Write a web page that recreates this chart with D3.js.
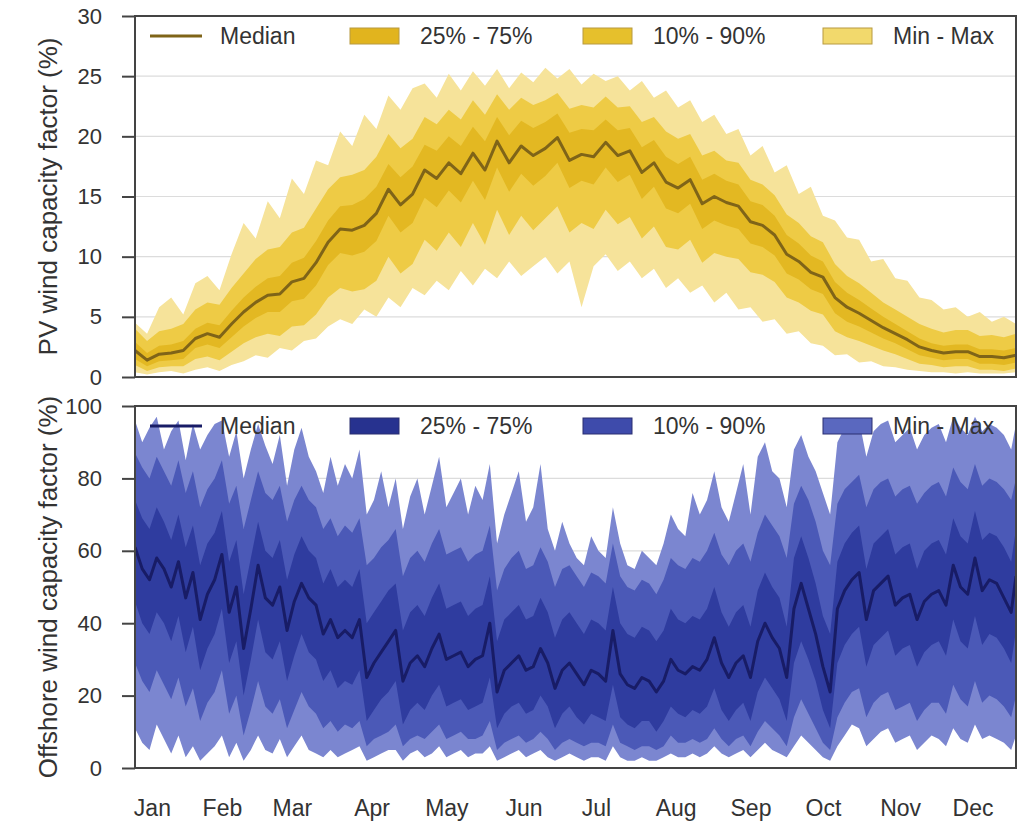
<!DOCTYPE html>
<html>
<head>
<meta charset="utf-8">
<script src="https://cdn.jsdelivr.net/npm/d3@7/dist/d3.min.js"></script>
<style>
  body { margin: 0; background: #fff; }
  text { font-family: "Liberation Sans", Arial, Helvetica, sans-serif; fill: #333; }
</style>
</head>
<body>
<svg id="chart" width="1030" height="824"></svg>
<script>
// Month labels and the day they sit on
var months = ['Jan','Feb','Mar','Apr','May','Jun','Jul','Aug','Sep','Oct','Nov','Dec'];
var monthDays = [7,36,65,98,129,161,191,224,255,285,317,347];

var legendNames = ['Median','25% - 75%','10% - 90%','Min - Max'];

// PV capacity factor (%), one sample every 5 days
var pvDays = [0,5,10,15,20,25,30,35,40,45,50,55,60,65,70,75,80,85,90,95,
  100,105,110,115,120,125,130,135,140,145,150,155,160,165,170,175,180,185,190,195,
  200,205,210,215,220,225,230,235,240,245,250,255,260,265,270,275,280,285,290,295,
  300,305,310,315,320,325,330,335,340,345,350,355,360,365];
var pvMedian = [2.2,1.4,1.9,2.0,2.2,3.2,3.6,3.3,4.4,5.4,
  6.2,6.8,6.9,7.9,8.2,9.5,11.2,12.3,12.2,12.6,
  13.6,15.6,14.3,15.2,17.2,16.5,17.8,16.9,18.6,17.2,
  19.6,17.8,19.2,18.4,19.0,19.9,18.0,18.5,18.3,19.5,
  18.4,18.8,17.0,17.8,16.2,15.7,16.4,14.4,15.0,14.5,
  14.2,12.9,12.6,11.8,10.2,9.6,8.7,8.3,6.6,5.8,
  5.3,4.7,4.1,3.6,3.1,2.5,2.2,2.0,2.1,2.1,
  1.7,1.7,1.6,1.8];
var pvQ75 = [2.9,2.0,2.6,2.7,3.0,4.0,4.5,4.3,5.5,6.6,
  7.5,8.2,8.4,9.5,9.9,11.3,13.0,14.2,14.3,14.8,
  15.8,17.7,16.6,17.5,19.3,18.8,20.0,19.2,20.8,19.6,
  21.6,20.1,21.3,20.7,21.2,21.9,20.3,20.6,20.5,21.4,
  20.5,20.7,19.1,19.7,18.3,17.7,18.3,16.4,16.9,16.3,
  16.0,14.6,14.3,13.4,11.8,11.1,10.1,9.6,7.9,7.0,
  6.4,5.7,5.0,4.4,3.8,3.2,2.8,2.6,2.7,2.7,
  2.3,2.3,2.2,2.4];
var pvQ25 = [1.5,0.9,1.3,1.4,1.5,2.4,2.7,2.4,3.3,4.2,
  4.9,5.4,5.4,6.3,6.5,7.6,9.3,10.3,10.1,10.4,
  11.3,13.4,12.0,12.8,14.9,14.1,15.5,14.5,16.3,14.7,
  17.4,15.4,16.9,15.9,16.7,17.8,15.7,16.3,16.0,17.4,
  16.2,16.8,14.8,15.8,14.0,13.6,14.4,12.3,13.0,12.6,
  12.3,11.1,10.8,10.1,8.6,8.1,7.3,6.9,5.3,4.6,
  4.2,3.7,3.2,2.8,2.3,1.8,1.6,1.4,1.5,1.5,
  1.1,1.1,1.0,1.2];
var pvP90 = [4.0,3.0,3.8,4.0,4.4,5.6,6.2,6.0,7.4,8.6,
  9.8,10.6,10.8,12.0,12.4,14.0,15.6,16.6,16.8,17.2,
  18.3,20.2,19.0,19.8,21.6,21.0,22.2,21.4,23.0,21.8,
  23.5,22.2,23.2,22.6,23.0,23.6,22.3,22.6,22.4,23.3,
  22.4,22.5,21.2,21.6,20.4,19.8,20.2,18.4,18.8,18.0,
  17.8,16.4,16.0,15.1,13.5,12.8,11.7,11.2,9.4,8.4,
  7.8,7.0,6.2,5.6,5.0,4.4,4.0,3.7,3.9,3.9,
  3.4,3.5,3.3,3.6];
var pvP10 = [1.0,0.5,0.8,0.9,0.9,1.5,1.7,1.4,2.1,2.8,
  3.3,3.6,3.4,4.2,4.3,5.2,6.6,7.4,7.1,7.3,
  8.0,10.0,8.6,9.4,11.4,10.5,12.0,10.8,12.8,11.0,
  13.9,11.8,13.4,12.2,13.2,14.2,12.0,12.8,12.3,13.9,
  12.7,13.3,11.5,12.5,10.8,10.6,11.4,9.5,10.3,10.0,
  9.8,8.7,8.5,7.9,6.6,6.2,5.5,5.2,3.8,3.3,
  3.0,2.6,2.2,1.9,1.5,1.1,1.0,0.8,0.9,0.9,
  0.6,0.6,0.5,0.7];
var pvMax = [4.5,3.6,5.8,6.6,5.2,7.8,8.4,7.2,10.2,12.8,
  11.5,14.6,13.2,16.5,15.2,18.0,17.6,20.4,19.2,21.8,
  20.6,23.4,22.2,24.0,24.4,23.2,25.2,23.8,25.4,24.2,
  25.6,24.0,25.3,24.5,25.7,24.8,25.6,24.3,25.2,24.6,
  25.0,23.8,24.6,23.2,23.8,22.4,23.0,21.2,21.8,20.2,
  20.6,18.4,19.2,17.0,17.6,15.2,15.8,13.4,13.0,11.6,
  11.4,9.6,9.8,8.2,8.0,6.6,6.4,5.6,5.8,5.0,
  5.4,4.6,5.0,4.4];
var pvMin = [0.4,0.2,0.4,0.5,0.3,0.6,0.8,0.5,1.0,1.3,
  1.8,1.6,2.4,2.2,3.0,3.2,4.2,4.8,4.4,5.6,
  5.0,6.6,5.8,7.4,6.8,8.0,7.2,8.8,7.6,9.0,
  8.2,9.6,8.4,9.2,10.0,8.6,9.6,5.8,9.2,10.2,
  8.8,9.6,8.2,9.0,7.4,8.2,7.0,7.6,6.2,7.0,
  5.6,5.8,4.6,4.8,3.6,3.8,2.8,2.6,1.8,1.9,
  1.2,1.3,0.9,0.8,0.6,0.5,0.4,0.4,0.3,0.4,
  0.3,0.3,0.3,0.4];

// Offshore wind capacity factor (%), one sample every 3 days
var windDays = [0,3,6,9,12,15,18,21,24,27,
  30,33,36,39,42,45,48,51,54,57,
  60,63,66,69,72,75,78,81,84,87,
  90,93,96,99,102,105,108,111,114,117,
  120,123,126,129,132,135,138,141,144,147,
  150,153,156,159,162,165,168,171,174,177,
  180,183,186,189,192,195,198,201,204,207,
  210,213,216,219,222,225,228,231,234,237,
  240,243,246,249,252,255,258,261,264,267,
  270,273,276,279,282,285,288,291,294,297,
  300,303,306,309,312,315,318,321,324,327,
  330,333,336,339,342,345,348,351,354,357,
  360,363,365];
var windMedian = [61,55,52,58,55,50,57,47,54,41,
  48,52,59,43,50,33,44,56,47,45,
  50,38,46,51,47,45,37,41,36,38,
  36,41,25,29,32,35,38,24,29,31,
  28,33,37,30,31,32,28,30,31,40,
  21,27,29,31,27,28,33,29,22,27,
  29,26,23,27,26,24,38,26,23,22,
  25,24,21,24,30,27,26,28,27,30,
  36,29,25,29,31,25,35,40,36,33,
  25,44,51,44,37,28,21,44,49,52,
  54,41,49,51,53,45,47,48,41,46,
  48,49,45,56,50,48,58,49,52,51,
  47,43,53];
var windQ75 = [74,69,66,72,68,63,70,61,67,56,
  62,65,71,57,63,48,58,68,60,58,
  63,52,59,64,60,58,51,55,50,52,
  50,55,40,43,46,49,51,38,43,45,
  42,47,51,44,45,46,42,44,45,53,
  35,41,43,45,41,42,47,43,36,41,
  43,40,37,41,40,38,50,40,37,36,
  39,38,35,38,44,41,40,42,41,44,
  50,43,39,43,45,39,49,54,50,47,
  39,58,64,58,51,42,37,57,62,65,
  67,55,62,64,66,59,61,62,55,60,
  62,63,59,69,64,62,71,63,65,64,
  61,57,66];
var windQ25 = [46,40,37,43,40,35,42,32,39,27,
  33,37,44,29,35,20,30,41,32,30,
  35,24,31,37,32,30,24,27,22,24,
  23,27,13,16,19,21,24,12,16,18,
  16,20,23,17,18,19,16,17,18,25,
  11,15,17,18,15,16,20,17,11,15,
  17,14,12,15,14,13,23,14,12,11,
  13,13,10,13,17,15,14,16,15,17,
  22,16,13,16,18,13,21,25,22,19,
  13,29,35,30,24,16,11,29,34,37,
  39,28,34,36,38,31,33,34,28,32,
  34,35,31,41,35,33,42,34,37,36,
  33,29,38];
var windP90 = [87,83,80,86,82,78,85,76,82,72,
  77,80,85,73,78,66,74,82,76,74,
  78,68,74,78,74,72,66,69,64,67,
  65,69,56,58,61,63,66,53,58,60,
  57,62,66,59,60,61,57,59,60,67,
  49,55,58,60,55,56,61,57,50,55,
  56,53,50,54,53,51,62,53,50,49,
  52,51,48,52,58,56,55,58,57,60,
  65,59,56,60,62,57,65,70,67,64,
  58,73,78,74,68,60,56,73,77,79,
  81,72,77,79,80,75,77,78,73,76,
  78,79,75,83,79,77,84,78,80,79,
  77,74,80];
var windP10 = [29,24,21,27,23,19,25,17,22,13,
  18,21,27,15,20,9,16,24,17,15,
  19,11,16,21,17,15,11,13,10,12,
  11,13,6,8,9,10,12,6,8,9,
  8,10,12,8,9,10,8,8,9,13,
  5,7,8,9,7,8,10,8,5,7,
  8,7,6,7,7,6,12,7,6,5,
  6,6,5,6,9,7,7,8,7,8,
  11,8,6,8,9,6,10,13,11,9,
  6,14,19,15,11,7,5,14,18,21,
  22,14,18,20,21,16,17,18,13,16,
  18,18,15,23,19,17,24,18,20,19,
  17,14,20];
var windMax = [96,90,94,97,88,93,96,85,95,88,
  92,95,96,86,93,80,88,95,89,84,
  92,78,88,94,86,82,76,86,78,84,
  80,88,70,74,82,72,80,66,75,80,
  70,78,86,72,76,80,70,78,74,84,
  62,70,76,82,68,72,84,66,60,68,
  62,58,56,64,60,58,72,62,56,55,
  60,58,56,62,70,66,64,76,70,74,
  82,72,68,76,84,70,86,90,82,80,
  72,88,92,86,82,76,70,90,94,95,
  96,86,93,95,96,90,92,94,88,92,
  94,95,90,97,94,92,97,93,95,94,
  92,88,95];
var windMin = [11,7,5,12,8,4,9,3,6,2,
  4,6,9,3,7,2,5,9,5,4,
  8,3,6,9,5,4,3,5,3,4,
  5,6,2,3,4,5,5,2,4,5,
  3,4,6,3,4,5,3,4,4,6,
  2,3,4,5,3,4,5,3,2,3,
  4,3,2,3,3,2,6,3,2,2,
  3,2,2,3,4,3,3,4,3,4,
  6,4,3,4,5,3,5,7,5,4,
  3,6,9,7,5,3,2,6,9,12,
  11,6,8,10,11,7,8,9,5,7,
  9,8,6,11,8,7,12,8,9,8,
  7,5,9];

var svg = d3.select('#chart');
var plotLeft = 135, plotRight = 1016;
var x = d3.scaleLinear().domain([0, 365]).range([plotLeft, plotRight]);

function drawPanel(cfg) {
  var y = d3.scaleLinear().domain([0, cfg.ymax]).range([cfg.bottom, cfg.top]);
  var g = svg.append('g');

  // clip the data to the plot box
  svg.append('clipPath').attr('id', cfg.id + '-clip')
    .append('rect')
    .attr('x', plotLeft).attr('y', cfg.top)
    .attr('width', plotRight - plotLeft).attr('height', cfg.bottom - cfg.top);

  // light horizontal grid
  g.selectAll('.grid')
    .data(cfg.ticks.filter(function(t) { return t > 0 && t < cfg.ymax; }))
    .enter().append('line')
    .attr('x1', plotLeft).attr('x2', plotRight)
    .attr('y1', function(d) { return y(d); })
    .attr('y2', function(d) { return y(d); })
    .style('stroke', '#dcdcdc').style('stroke-width', 1.2);

  var s = cfg.series;
  var rows = cfg.days.map(function(d, i) {
    return { day: d, min: s.min[i], max: s.max[i], p10: s.p10[i], p90: s.p90[i],
             q25: s.q25[i], q75: s.q75[i], med: s.med[i] };
  });

  var data = g.append('g').attr('clip-path', 'url(#' + cfg.id + '-clip)');
  var bands = [['min', 'max', cfg.colors[3]], ['p10', 'p90', cfg.colors[2]], ['q25', 'q75', cfg.colors[1]]];
  bands.forEach(function(b) {
    var area = d3.area()
      .x(function(d) { return x(d.day); })
      .y0(function(d) { return y(d[b[0]]); })
      .y1(function(d) { return y(d[b[1]]); });
    data.append('path').datum(rows)
      .attr('d', area)
      .style('fill', b[2]);
  });

  var line = d3.line()
    .x(function(d) { return x(d.day); })
    .y(function(d) { return y(d.med); });
  data.append('path').datum(rows)
    .attr('d', line)
    .style('fill', 'none')
    .style('stroke', cfg.colors[0])
    .style('stroke-width', 3)
    .style('stroke-linejoin', 'round');

  // frame
  g.append('rect')
    .attr('x', plotLeft).attr('y', cfg.top)
    .attr('width', plotRight - plotLeft).attr('height', cfg.bottom - cfg.top)
    .style('fill', 'none').style('stroke', '#444').style('stroke-width', 2);

  // y axis
  var yAxis = g.append('g')
    .attr('transform', 'translate(' + plotLeft + ',0)')
    .call(d3.axisLeft(y).tickValues(cfg.ticks).tickSize(13).tickPadding(20));
  yAxis.select('.domain').remove();
  yAxis.selectAll('line').style('stroke', '#444').style('stroke-width', 2);
  yAxis.selectAll('text').style('font-size', '22px').style('fill', '#333')
    .style('font-family', '"Liberation Sans", Arial, sans-serif');

  g.append('text')
    .attr('transform', 'translate(57,' + ((cfg.top + cfg.bottom) / 2) + ') rotate(-90)')
    .attr('text-anchor', 'middle')
    .style('font-size', '26px')
    .text(cfg.label);

  // legend
  var legX = [150, 350, 583, 823];
  var ly = cfg.top + 20;
  var leg = g.append('g');
  legendNames.forEach(function(name, i) {
    if (i === 0) {
      leg.append('line')
        .attr('x1', legX[i]).attr('x2', legX[i] + 52)
        .attr('y1', ly).attr('y2', ly)
        .style('stroke', cfg.colors[0]).style('stroke-width', 3);
    } else {
      leg.append('rect')
        .attr('x', legX[i]).attr('y', ly - 8)
        .attr('width', 49).attr('height', 16)
        .style('fill', cfg.legendColors[i])
        .style('stroke', cfg.legendStroke).style('stroke-width', 1);
    }
    leg.append('text')
      .attr('x', legX[i] + 70).attr('y', ly + 8)
      .style('font-size', '23px')
      .text(name);
  });

  return y;
}

drawPanel({
  id: 'pv', top: 16, bottom: 377, ymax: 30, days: pvDays,
  ticks: [0, 5, 10, 15, 20, 25, 30],
  label: 'PV wind capacity factor (%)',
  series: { min: pvMin, max: pvMax, p10: pvP10, p90: pvP90, q25: pvQ25, q75: pvQ75, med: pvMedian },
  colors: ['#7f6418', '#e3b822', '#eecb45', '#f6e39a'],
  legendColors: ['#7f6418', '#e1b41e', '#e6c02c', '#f2d96c'],
  legendStroke: '#b89a40'
});

drawPanel({
  id: 'wind', top: 406, bottom: 768, ymax: 100, days: windDays,
  ticks: [0, 20, 40, 60, 80, 100],
  label: 'Offshore wind capacity factor (%)',
  series: { min: windMin, max: windMax, p10: windP10, p90: windP90, q25: windQ25, q75: windQ75, med: windMedian },
  colors: ['#181c66', '#2f3c9f', '#4b59b7', '#7b86d0'],
  legendColors: ['#181c66', '#27328f', '#3e4bab', '#5a68bf'],
  legendStroke: '#2a2f70'
});

// month labels under the lower panel
var xAxis = svg.append('g')
  .attr('transform', 'translate(0,768)')
  .call(d3.axisBottom(x).tickValues(monthDays)
    .tickFormat(function(d, i) { return months[i]; })
    .tickSize(0).tickPadding(32));
xAxis.select('.domain').remove();
xAxis.selectAll('text').style('font-size', '23px').style('fill', '#333')
  .style('font-family', '"Liberation Sans", Arial, sans-serif');
</script>
</body>
</html>
